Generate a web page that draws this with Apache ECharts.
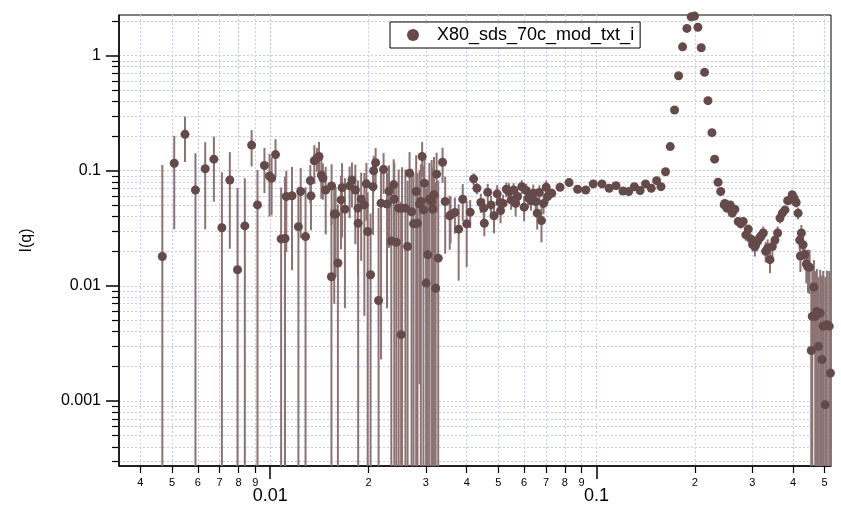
<!DOCTYPE html>
<html>
<head>
<meta charset="utf-8">
<script src="https://cdn.jsdelivr.net/npm/echarts@6/dist/echarts.min.js"></script>
<style>html,body{margin:0;padding:0;background:#fff}#c{width:841px;height:512px}</style>
</head>
<body>
<div id="c"></div>
<script>
// ---- data (q, I(q), error) ----
const seriesName = 'X80_sds_70c_mod_txt_i';
const qVals = [
0.00467,0.00508,0.00548,0.0059,0.00632,0.00672,0.00711,0.00752,0.00794,0.00836,0.00877,0.00914,0.0096,0.00995,0.0101,0.01038,0.0108,0.0111,0.0112,0.01166,0.0122,0.0124,
0.01283,0.01327,0.01333,0.01365,0.0139,0.01411,0.01434,0.0145,0.01479,0.0154,0.01542,0.01571,0.01586,0.01612,0.01648,0.0166,0.01694,0.01751,0.0178,0.01823,0.01857,0.0186,0.019,0.01943,0.01971,0.01989,0.0203,0.02066,0.02075,0.02104,0.02148,0.02186,0.02225,0.0228,0.02312,0.0235,0.0239,0.024,0.02435,0.02475,0.02518,0.02535,0.02596,0.02636,0.02673,0.02711,0.02749,0.02801,0.02827,0.02867,0.02895,0.02921,0.02948,0.02969,0.03004,0.03039,0.03074,0.03124,0.03146,0.03175,0.03213,0.03235,0.03272,0.03374,0.03437,0.03549,
0.0357,0.0368,0.0378,0.0389,0.04,0.041,0.042,0.043,0.0442,0.0451,0.0453,0.0464,0.0475,0.0485,0.0496,0.0506,0.0508,0.0517,0.0529,0.0539,0.0547,0.0557,0.0565,0.0573,0.059,0.06,0.0609,0.0618,0.063,0.064,0.0651,0.0658,0.0668,0.0678,0.0688,0.0701,0.0708,0.0718,0.0729,
0.0773,0.0824,0.0875,0.0927,0.0977,0.1039,0.1093,0.1147,0.1205,0.1255,0.1306,0.136,0.1413,0.1471,0.1528,0.1576,0.1627,0.1682,0.1734,0.1784,0.1835,0.1892,0.195,0.1997,0.2045,0.2093,0.2143,0.2195,0.2258,0.2301,0.2357,0.2402,
0.2461,0.2472,0.2509,0.2568,0.2605,0.2654,0.2718,0.2768,0.2815,0.2868,0.2917,0.2971,0.3007,0.3057,0.3101,0.3145,0.319,0.3244,0.3298,0.3345,0.34,0.3458,0.3522,0.3589,0.3649,0.3711,0.378,0.3851,0.3912,0.3977,0.4033,0.409,0.4147,0.4194,0.4214,0.4244,0.4294,0.4344,0.4394,0.4446,0.4497,0.455,0.4582,0.4636,0.468,0.4735,0.4789,0.4846,0.4904,0.4949,0.502,0.508,0.5163,0.521
];
const iVals = [
0.018,0.116,0.207,0.068,0.104,0.126,0.032,0.083,0.0138,0.0332,0.167,0.0505,0.111,0.09,0.086,0.138,0.0256,0.0258,0.0597,0.0607,0.0327,0.066,
0.0268,0.082,0.0605,0.122,0.128,0.133,0.092,0.086,0.068,0.012,0.0738,0.042,0.042,0.0158,0.0558,0.0713,0.0464,0.0738,0.083,0.068,0.0473,0.035,0.0565,0.0505,0.0769,0.0297,0.0125,0.0727,0.1,0.1175,0.00747,0.0523,0.1027,0.0514,0.0664,0.0245,0.0758,0.0565,0.0239,0.0473,0.00377,0.0473,0.0473,0.022,0.095,0.044,0.0346,0.066,0.035,0.0514,0.054,0.133,0.0457,0.078,0.01057,0.0186,0.0565,0.054,0.0464,0.0618,0.00953,0.0934,0.0174,0.1185,0.054,0.0406,
0.0414,0.0434,0.0311,0.0565,0.0346,0.0437,0.0849,0.0705,0.053,0.0473,0.035,0.065,0.0505,0.0406,0.063,0.053,0.045,0.052,0.069,0.066,0.0558,0.068,0.052,0.0597,0.0727,0.0483,0.0673,0.0578,0.055,0.0638,0.054,0.0428,0.0647,0.0369,0.052,0.0719,0.0597,0.0638,0.0638,
0.0719,0.0789,0.069,0.068,0.0768,0.0768,0.0705,0.0742,0.0667,0.066,0.0727,0.0672,0.0768,0.0705,0.082,0.0727,0.098,0.162,0.337,0.668,1.19,1.72,2.17,2.2,1.76,1.17,0.715,0.406,0.214,0.126,0.0794,0.066,
0.0505,0.052,0.0473,0.0505,0.0428,0.0464,0.0362,0.0346,0.0362,0.0277,0.0311,0.0256,0.0228,0.022,0.024,0.0256,0.027,0.0288,0.02,0.0213,0.0169,0.022,0.025,0.0288,0.0388,0.0428,0.0457,0.055,0.0558,0.0618,0.0578,0.053,0.0428,0.025,0.0182,0.0288,0.0228,0.0187,0.0155,0.0147,0.0145,0.00275,0.00543,0.00977,0.00543,0.006,0.00298,0.0058,0.00229,0.00447,0.00093,0.0046,0.00447,0.00175
];
const errVals = [
0.094,0.085,0.088,0.074,0.073,0.072,0.065,0.062,0.057,0.053,0.058,0.051,0.047,0.05,0.045,0.05,0.046,0.063,0.04,0.047,0.04,0.04,
0.045,0.03,0.03,0.045,0.03,0.045,0.035,0.03,0.04,0.034,0.04,0.035,0.03,0.035,0.035,0.045,0.04,0.035,0.035,0.045,0.035,0.04,0.04,0.045,0.04,0.035,0.03,0.045,0.035,0.04,0.04,0.05,0.04,0.045,0.045,0.05,0.05,0.06,0.055,0.055,0.05,0.06,0.055,0.06,0.05,0.06,0.06,0.07,0.06,0.05,0.06,0.045,0.065,0.06,0.06,0.06,0.06,0.07,0.06,0.07,0.07,0.05,0.065,0.04,0.035,0.02,
0.018,0.015,0.02,0.02,0.02,0.012,0.01,0.008,0.01,0.01,0.008,0.012,0.01,0.012,0.012,0.01,0.01,0.01,0.01,0.012,0.01,0.01,0.012,0.01,0.01,0.012,0.01,0.01,0.01,0.012,0.01,0.012,0.01,0.013,0.01,0.01,0.008,0.006,0.005,
0.003,0.003,0.002,0.002,0.002,0.002,0.002,0.002,0.002,0.002,0.002,0.002,0.002,0.002,0.002,0.002,0.002,0.003,0.005,0.01,0.02,0.03,0.03,0.03,0.03,0.02,0.01,0.005,0.003,0.002,0.002,0.002,
0.003,0.003,0.003,0.003,0.003,0.003,0.003,0.003,0.003,0.003,0.003,0.003,0.003,0.004,0.004,0.004,0.004,0.004,0.004,0.004,0.004,0.004,0.004,0.004,0.004,0.004,0.004,0.004,0.005,0.005,0.005,0.005,0.005,0.005,0.005,0.005,0.005,0.005,0.005,0.006,0.006,0.008,0.008,0.007,0.008,0.008,0.009,0.008,0.01,0.009,0.011,0.009,0.009,0.01
];
// ---- axes ----
const xRange = [0.00344, 0.523];
const yRange = [0.000273, 2.25];
const xMinorTicks = [0.004,0.005,0.006,0.007,0.008,0.009,0.02,0.03,0.04,0.05,0.06,0.07,0.08,0.09,0.2,0.3,0.4,0.5];
const xMajorTicks = [0.01, 0.1];
const xMajorLabels = ['0.01', '0.1'];
const yMinorTicks = [0.0003,0.0004,0.0005,0.0006,0.0007,0.0008,0.0009,0.002,0.003,0.004,0.005,0.006,0.007,0.008,0.009,0.02,0.03,0.04,0.05,0.06,0.07,0.08,0.09,0.2,0.3,0.4,0.5,0.6,0.7,0.8,0.9,2];
const yMajorTicks = [0.001, 0.01, 0.1, 1];
const yMajorLabels = ['0.001', '0.01', '0.1', '1'];
const yName = 'I(q)';

const L = Math.log10;
const xMin = L(xRange[0]), xMax = L(xRange[1]);
const yMin = L(yRange[0]), yMax = L(yRange[1]);
const pts = qVals.map((q, i) => [L(q), L(iVals[i])]);
const bars = qVals.map((q, i) => {
  const lo = iVals[i] - errVals[i];
  return [L(q), lo > 0 ? L(lo) : yMin, L(iVals[i] + errVals[i])];
});

const FONT = 'Liberation Sans, Arial, sans-serif';
const gridLine = {show: true, lineStyle: {color: '#c8c8f4', width: 1, type: [2, 2]}};
const chart = echarts.init(document.getElementById('c'), null, {renderer: 'canvas'});
chart.setOption({
  animation: false,
  backgroundColor: '#fff',
  grid: {left: 119, right: 10, top: 15, bottom: 46, show: true, borderColor: '#000', borderWidth: 1, backgroundColor: 'transparent'},
  legend: {
    data: [{name: seriesName, icon: 'circle'}],
    left: 390, top: 22, itemWidth: 12, itemHeight: 12,
    padding: [4, 6, 4, 17],
    borderColor: '#000', borderWidth: 1, backgroundColor: '#fff',
    textStyle: {fontFamily: FONT, fontSize: 18, color: '#000', padding: [0, 0, 0, 13]}
  },
  xAxis: [
    {type: 'value', min: xMin, max: xMax, position: 'bottom',
     axisLine: {show: true, onZero: false, lineStyle: {color: '#000', width: 1.5}},
     axisTick: {show: true, length: 7, customValues: xMinorTicks.map(L), lineStyle: {color: '#000', width: 1.2}},
     axisLabel: {show: true, customValues: xMinorTicks.map(L), margin: 11, fontFamily: FONT, fontSize: 11, color: '#000',
       formatter: v => String(Math.round(Math.pow(10, v - Math.floor(v + 1e-9))))},
     splitLine: gridLine},
    {type: 'value', min: xMin, max: xMax, position: 'bottom',
     axisLine: {show: false, onZero: false},
     axisTick: {show: true, length: 13, customValues: xMajorTicks.map(L), lineStyle: {color: '#000', width: 1.5}},
     axisLabel: {show: true, customValues: xMajorTicks.map(L), margin: 21, fontFamily: FONT, fontSize: 18, color: '#000',
       formatter: v => xMajorLabels[xMajorTicks.findIndex(t => Math.abs(L(t) - v) < 1e-6)]},
     splitLine: gridLine}
  ],
  yAxis: [
    {type: 'value', min: yMin, max: yMax, position: 'left',
     axisLine: {show: true, onZero: false, lineStyle: {color: '#000', width: 1.5}},
     axisTick: {show: true, length: 7, customValues: yMinorTicks.map(L), lineStyle: {color: '#000', width: 1.2}},
     axisLabel: {show: false},
     splitLine: gridLine},
    {type: 'value', min: yMin, max: yMax, position: 'left',
     name: yName, nameLocation: 'middle', nameGap: 84, nameRotate: 90,
     nameTextStyle: {fontFamily: FONT, fontSize: 16, color: '#000'},
     axisLine: {show: false, onZero: false},
     axisTick: {show: true, length: 13, customValues: yMajorTicks.map(L), lineStyle: {color: '#000', width: 1.5}},
     axisLabel: {show: true, customValues: yMajorTicks.map(L), margin: 18, fontFamily: FONT, fontSize: 16, color: '#000',
       formatter: v => yMajorLabels[yMajorTicks.findIndex(t => Math.abs(L(t) - v) < 1e-6)]},
     splitLine: gridLine}
  ],
  series: [
    {type: 'custom', name: 'err', xAxisIndex: 0, yAxisIndex: 0, data: bars, z: 2, silent: true,
     encode: {x: 0, y: [1, 2]},
     renderItem: (params, api) => {
       const x = api.value(0);
       const lo = Math.max(api.value(1), yMin);
       const hi = Math.min(api.value(2), yMax);
       if (hi <= lo) return null;
       const p1 = api.coord([x, lo]);
       const p2 = api.coord([x, hi]);
       return {type: 'line', shape: {x1: p1[0], y1: p1[1], x2: p2[0], y2: p2[1]},
               style: {stroke: '#8c7373', lineWidth: 2}};
     }},
    {type: 'scatter', name: seriesName, xAxisIndex: 0, yAxisIndex: 0, data: pts, z: 3,
     symbol: 'circle', symbolSize: 9, itemStyle: {color: '#654a4a', opacity: 1}, clip: true}
  ]
});
</script>
</body>
</html>
